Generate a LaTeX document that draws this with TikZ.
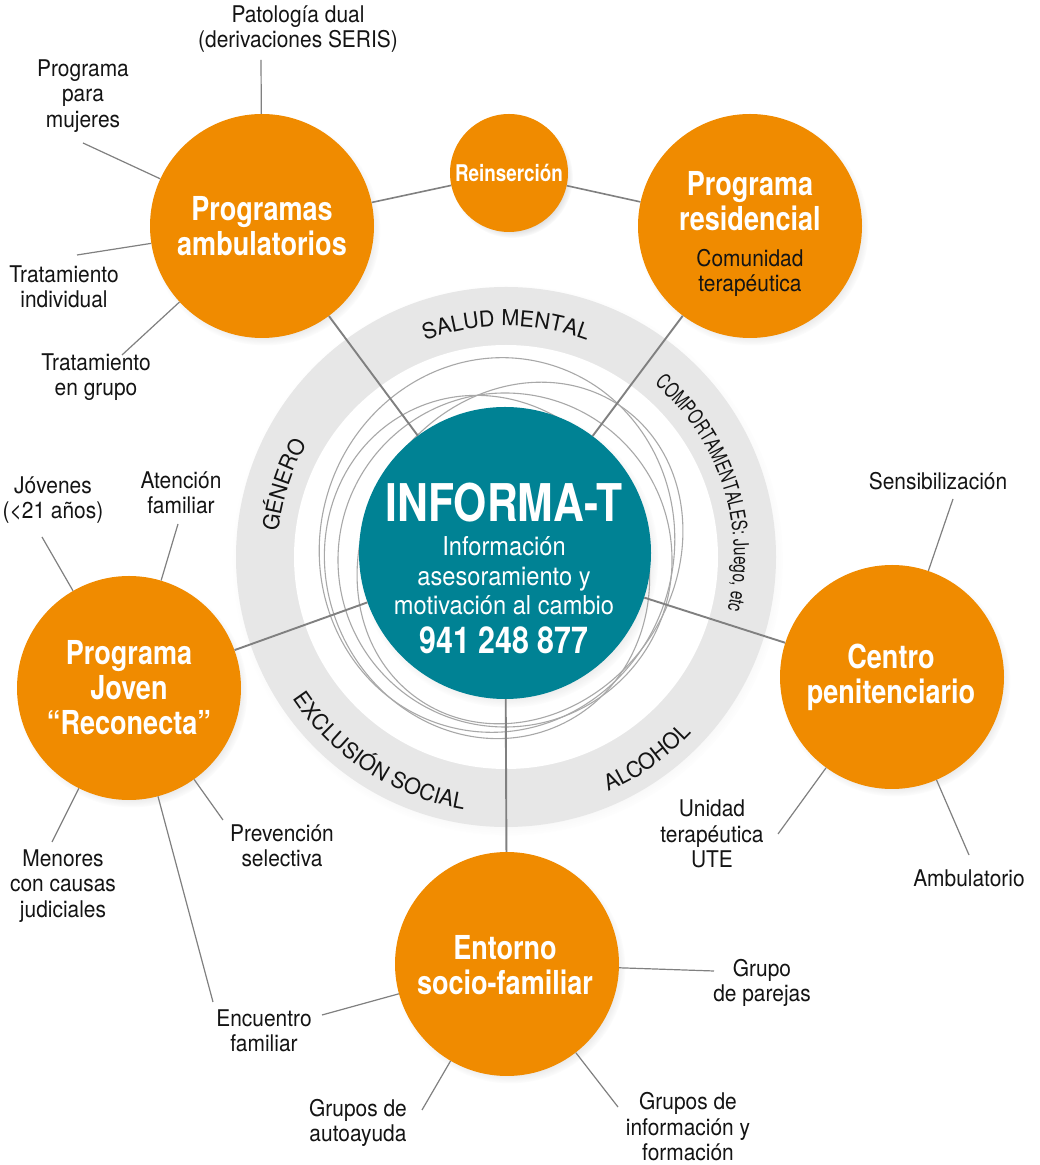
\documentclass[tikz,border=0pt]{standalone}
\usepackage{fontspec}
\setmainfont{TeX Gyre Heros}[FakeStretch=0.91, BoldFeatures={FakeStretch=0.82}]
\newfontfamily\ringfont{TeX Gyre Heros}[FakeStretch=0.98]
\newfontfamily\ringcond{TeX Gyre Heros}[FakeStretch=0.73]
\usetikzlibrary{shadows, decorations.text}
\definecolor{orng}{RGB}{240,139,0}
\definecolor{myteal}{RGB}{0,130,148}
\definecolor{linegray}{RGB}{128,128,128}
\definecolor{ringgray}{RGB}{231,231,231}
\definecolor{thingray}{RGB}{168,168,168}
\definecolor{txt}{RGB}{20,20,20}
\begin{document}
\begin{tikzpicture}[x=1pt,y=1pt,
  shd/.style={circular drop shadow={shadow xshift=3pt, shadow yshift=-4pt, opacity=0.3, shadow scale=1.03}},
  big/.style={circle, fill=orng, minimum size=224pt, inner sep=0pt, shd},
  lbl/.style={text=txt, align=center, inner sep=0pt, font=\fontsize{23}{25.5}\selectfont},
  ttl/.style={text=white, align=center, inner sep=0pt, font=\bfseries\fontsize{33}{35}\selectfont},
  conn/.style={draw=linegray, line width=1.9pt},
  leader/.style={draw=linegray, line width=1.2pt},
  thinc/.style={draw=thingray, line width=1.1pt},
  ringtxt/.style={decorate, decoration={text along path, text align=center, text color=txt}}
]
\useasboundingbox[fill=white] (0,0) rectangle (1040,1165);

% ring
\node[circle, minimum size=540pt, inner sep=0pt, fill=ringgray, circular drop shadow={shadow xshift=2pt, shadow yshift=-3pt, opacity=0.18, shadow scale=1.02}] (ringout) at (506,608) {};
\node[circle, minimum size=424pt, inner sep=0pt, fill=white] (ringin) at (506,608) {};

% ring texts
\path[ringtxt, decoration={text={|\ringfont\fontsize{22}{22}\selectfont|SALUD MENTAL}}]
  ([shift={(506,608)}]130:231) arc[start angle=130, end angle=50, radius=231];
\path[ringtxt, decoration={text={|\ringcond\fontsize{21}{21}\selectfont|COMPORTAMENTALES: Juego, etc}}]
  ([shift={(506,608)}]78:228) arc[start angle=78, end angle=-42, radius=228];
\path[ringtxt, decoration={text={|\ringfont\fontsize{22}{22}\selectfont|GÉNERO}}]
  ([shift={(506,608)}]193:229) arc[start angle=193, end angle=131, radius=229];
\path[ringtxt, decoration={text={|\ringfont\fontsize{22}{22}\selectfont|EXCLUSIÓN SOCIAL}}]
  ([shift={(506,608)}]200:256) arc[start angle=200, end angle=274, radius=256];
\path[ringtxt, decoration={text={|\ringfont\fontsize{22}{22}\selectfont|ALCOHOL}}]
  ([shift={(506,608)}]280:256) arc[start angle=280, end angle=330, radius=256];

% thin circles
\draw[thinc, rotate around={-15:(497,620)}] (497,620) ellipse [x radius=177, y radius=188];
\draw[thinc] (505,605) circle [radius=167];
\draw[thinc, rotate around={25:(487,598)}] (487,598) ellipse [x radius=160, y radius=174];
\draw[thinc, rotate around={-35:(520,612)}] (520,612) ellipse [x radius=155, y radius=178];

% main circles
\node[big] (amb) at (262,939) {};
\node[circle, fill=orng, minimum size=118pt, inner sep=0pt, shd] (rein) at (509,992) {};
\node[big] (res) at (750,939) {};
\node[big] (joven) at (129,477) {};
\node[big] (pen) at (892,488) {};
\node[big] (ent) at (507,201) {};
\node[circle, fill=myteal, minimum size=292pt, inner sep=0pt, shd] (info) at (505,612) {};

% connectors
\draw[conn] (amb) -- (info);
\draw[conn] (res) -- (info);
\draw[conn] (joven) -- (info);
\draw[conn] (pen) -- (info);
\draw[conn] (ent) -- (info);
\draw[conn, line width=1.6pt] (amb) -- (rein);
\draw[conn, line width=1.6pt] (rein) -- (res);

% titles
\node[ttl] (ambT) at (262,939) {Programas\\ambulatorios};
\node[ttl, font=\bfseries\fontsize{23}{25}\selectfont] (reinT) at (509,992) {Reinserción};
\node[ttl] (resT) at (750,964) {Programa\\residencial};
\node[lbl] (resS) at (750,892) {Comunidad\\terapéutica};
\node[ttl] (jovT) at (129,477) {Programa\\Joven\\“Reconecta”};
\node[ttl] (penT) at (891,488) {Centro\\penitenciario};
\node[ttl] (entT) at (505,200) {Entorno\\socio-familiar};
\node[text=white, inner sep=0pt, font=\bfseries\fontsize{52}{52}\selectfont] (infoT) at (504,662) {INFORMA-T};
\node[text=white, align=center, inner sep=0pt, font=\fontsize{26}{29.5}\selectfont] (infoS) at (504,589) {Información\\asesoramiento y\\motivación al cambio};
\node[text=white, inner sep=0pt, font=\bfseries\fontsize{37}{37}\selectfont] (infoN) at (504,525) {941 248 877};

% outer labels
\node[lbl] (patL) at (298,1136) {Patología dual\\(derivaciones SERIS)};
\node[lbl] (mujL) at (83,1069) {Programa\\para\\mujeres};
\node[lbl] (indL) at (64,878) {Tratamiento\\individual};
\node[lbl] (gruL) at (96,788) {Tratamiento\\en grupo};
\node[lbl] (jovL) at (53,665) {Jóvenes\\(\textless21 años)};
\node[lbl] (atnL) at (181,672) {Atención\\familiar};
\node[lbl] (preL) at (282,319) {Prevención\\selectiva};
\node[lbl] (menL) at (63,279) {Menores\\con causas\\judiciales};
\node[lbl] (encL) at (264,134) {Encuentro\\familiar};
\node[lbl] (senL) at (938,684) {Sensibilización};
\node[lbl] (uniL) at (712,331) {Unidad\\terapéutica\\UTE};
\node[lbl] (ambL) at (969,287) {Ambulatorio};
\node[lbl] (parL) at (762,182) {Grupo\\de parejas};
\node[lbl] (autL) at (358,42) {Grupos de\\autoayuda};
\node[lbl] (infL) at (688,38) {Grupos de\\información y\\formación};

% leader end points
\coordinate (patE) at (261,1105);
\coordinate (mujE) at (83,1022);
\coordinate (indE) at (77,910);
\coordinate (gruE) at (122,810);
\coordinate (jovE) at (42,628);
\coordinate (atnE) at (178,641);
\coordinate (preE) at (223,345);
\coordinate (menE) at (52,323);
\coordinate (encE1) at (213,163);
\coordinate (encE2) at (322,150);
\coordinate (senE) at (953,666);
\coordinate (uniE) at (778,331);
\coordinate (ambE) at (969,310);
\coordinate (parE) at (714,194);
\coordinate (autE) at (422,55);
\coordinate (infE) at (618,58);

\draw[leader] (patE) -- (amb);
\draw[leader] (mujE) -- (amb);
\draw[leader] (indE) -- (amb);
\draw[leader] (gruE) -- (amb);
\draw[leader] (jovE) -- (joven);
\draw[leader] (atnE) -- (joven);
\draw[leader] (preE) -- (joven);
\draw[leader] (menE) -- (joven);
\draw[leader] (encE1) -- (joven);
\draw[leader] (encE2) -- (ent);
\draw[leader] (senE) -- (pen);
\draw[leader] (uniE) -- (pen);
\draw[leader] (ambE) -- (pen);
\draw[leader] (parE) -- (ent);
\draw[leader] (autE) -- (ent);
\draw[leader] (infE) -- (ent);
\end{tikzpicture}
\end{document}
